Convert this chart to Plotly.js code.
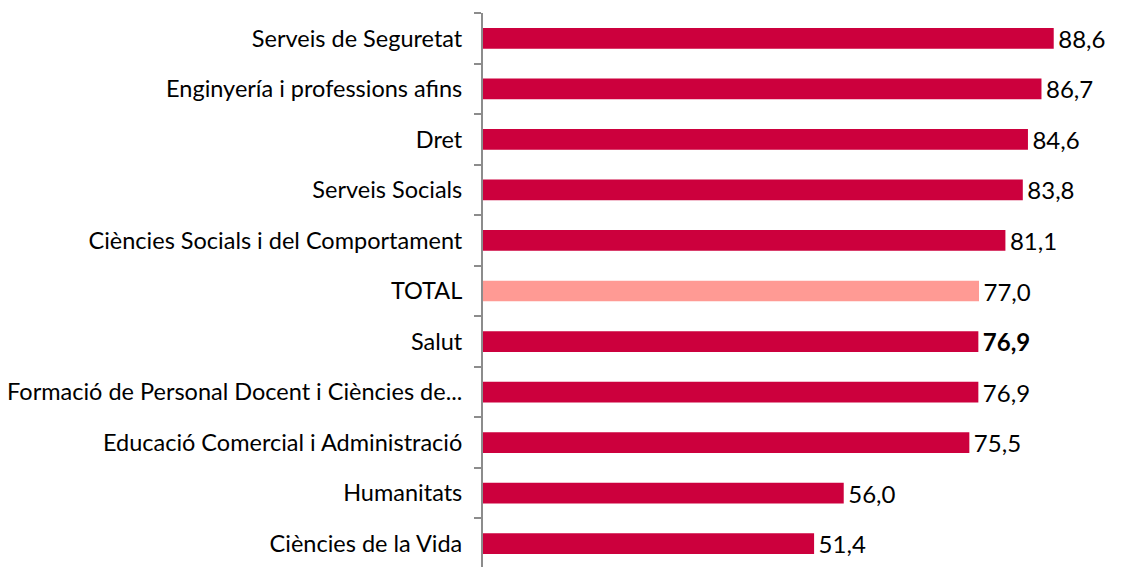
<!DOCTYPE html>
<html><head><meta charset="utf-8">
<script src="https://cdn.plot.ly/plotly-3.0.1.min.js"></script>
<style>html,body{margin:0;padding:0;overflow:hidden;background:#fff}</style>
</head><body>
<div id="chart" style="width:1122px;height:570px"></div>
<script>
const categories = [
  "Serveis de Seguretat",
  "Enginyería i professions afins",
  "Dret",
  "Serveis Socials",
  "Ciències Socials i del Comportament",
  "TOTAL",
  "Salut",
  "Formació de Personal Docent i Ciències de...",
  "Educació Comercial i Administració",
  "Humanitats",
  "Ciències de la Vida"
];
const values = [88.6, 86.7, 84.6, 83.8, 81.1, 77.0, 76.9, 76.9, 75.5, 56.0, 51.4];
const highlightCategory = "TOTAL";
const boldLabelCategory = "Salut";

const mainColor = "#CC003D";
const totalColor = "#FF9A94";

const labels = values.map((v, i) => {
  const s = v.toFixed(1).replace(".", ",");
  return "\u200a" + (categories[i] === boldLabelCategory ? "<b>" + s + "</b>" : s);
});
const colors = categories.map(c => c === highlightCategory ? totalColor : mainColor);

const trace = {
  type: "bar",
  orientation: "h",
  y: categories,
  x: values,
  width: 0.41,
  marker: {color: colors},
  text: labels,
  textposition: "outside",
  constraintext: "none",
  cliponaxis: false,
  textfont: {family: "Lato, sans-serif", size: 24, color: "#000"},
  hoverinfo: "none"
};

const layout = {
  width: 1122, height: 570,
  margin: {l: 483, r: 0, t: 13, b: 1},
  paper_bgcolor: "#fff", plot_bgcolor: "#fff",
  showlegend: false,
  font: {family: "Lato, sans-serif", size: 24, color: "#000"},
  xaxis: {range: [0, 99.2], visible: false, fixedrange: true},
  yaxis: {
    autorange: "reversed",
    showline: true, linecolor: "#8c8c8c", linewidth: 2,
    ticks: "outside", tickson: "boundaries", ticklen: 7, tickcolor: "#8c8c8c", tickwidth: 2,
    ticklabelstandoff: 14,
    showgrid: false, zeroline: false,
    tickfont: {family: "Lato, sans-serif", size: 23.5, color: "#000"}
  }
};

Plotly.newPlot("chart", [trace], layout, {displayModeBar: false, staticPlot: true});
</script>
</body></html>
